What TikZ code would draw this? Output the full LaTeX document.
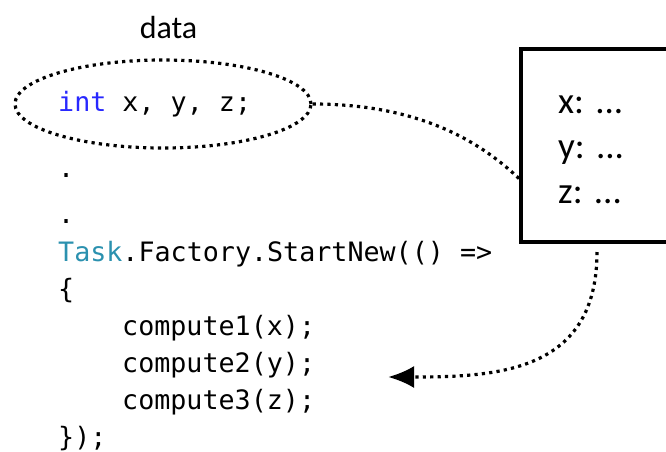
\documentclass[tikz,border=0pt]{standalone}
\usepackage{fontspec}
\setmonofont{DejaVu Sans Mono}
\newfontfamily\calib{Carlito}
\usepackage{xcolor}
\usetikzlibrary{shapes.geometric,arrows.meta}
\definecolor{kwblue}{RGB}{40,40,255}
\definecolor{typeteal}{RGB}{43,145,175}
\tikzset{
  code/.style={anchor=base west,inner sep=0pt,font=\ttfamily\fontsize{26.7}{32}\selectfont},
  cell/.style={anchor=base west,inner sep=0pt,font=\calib\fontsize{37}{44}\selectfont},
  dotline/.style={line width=3.2pt,dash pattern=on 3.2pt off 4.2pt}
}
\begin{document}
\begin{tikzpicture}[x=1pt,y=-1pt]
\useasboundingbox (0,0) rectangle (666,451);
\node[anchor=base,inner sep=0pt,font=\calib\fontsize{32}{38}\selectfont] (lbl) at (168.5,38) {data};
\node[ellipse,draw,dotline,minimum width=296pt,minimum height=88pt,inner sep=0pt] (data) at (163,104) {};
\node[code] (decl) at (58,111) {\textcolor{kwblue}{int} x, y, z;};
\node[code] (dot1) at (58,177) {.};
\node[code] (dot2) at (58,223) {.};
\node[code] (task) at (58,261) {\textcolor{typeteal}{Task}.Factory.StartNew(() =>};
\node[code] (open) at (58,298) {\{};
\node[code] (c1) at (122,335) {compute1(x);};
\node[code] (c2) at (122,372) {compute2(y);};
\node[code] (c3) at (122,409) {compute3(z);};
\node[code] (close) at (58,446) {\});};
\node[draw,line width=4pt,minimum width=152pt,minimum height=193pt,anchor=north west] (mem) at (519,47) {};
\node[cell] (vx) at (558,113) {x: ...};
\node[cell] (vy) at (558,158) {y: ...};
\node[cell] (vz) at (558,203) {z: ...};
\coordinate (tgt) at (388,377);
\draw[dotline] (data.east) .. controls +(108,0) and +(-38,-36) .. ([yshift=-33pt]mem.west);
\draw[dotline,shorten <=8pt,-{Latex[length=26pt,width=22pt]}] (mem.south) .. controls +(0,128) and +(110,0) .. (tgt);
\end{tikzpicture}
\end{document}
